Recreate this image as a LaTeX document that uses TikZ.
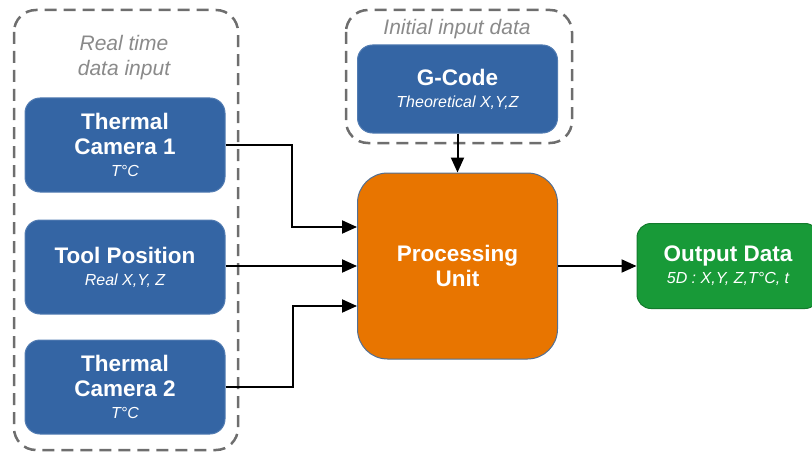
\documentclass[tikz,border=0pt]{standalone}
\usepackage{fontspec}
\setmainfont{Liberation Sans}
\usepackage{tikz}
\usetikzlibrary{shapes,arrows,arrows.meta}
\usepackage{xcolor}
\definecolor{boxblue}{HTML}{3465A4}
\definecolor{boxorange}{HTML}{E87500}
\definecolor{boxgreen}{HTML}{189A38}
\definecolor{dashgray}{HTML}{6E6E6E}
\definecolor{labelgray}{HTML}{8A8A8A}

\begin{document}
\begin{tikzpicture}[x=1pt,y=-1pt,
					inbox/.style={draw=boxblue!85!white, line width=1pt, fill=boxblue, rounded corners=15pt,
						text=white, align=center, minimum width=200pt, inner sep=0pt,
						font=\fontsize{22.5}{25}\selectfont\bfseries},
					procbox/.style={draw=boxblue!60!gray, line width=1pt, fill=boxorange, rounded corners=30pt,
						text=white, align=center, minimum width=200pt, minimum height=186pt, inner sep=0pt,
						font=\fontsize{22.5}{25}\selectfont\bfseries},
					outbox/.style={draw=boxgreen!80!black, line width=1pt, fill=boxgreen, rounded corners=14pt,
						text=white, align=center, minimum width=182pt, minimum height=85pt, inner sep=0pt,
						font=\fontsize{22.5}{25}\selectfont\bfseries},
					group/.style={draw=dashgray, line width=2.5pt, dash pattern=on 12pt off 7pt, rounded corners=22pt},
					grouplabel/.style={text=labelgray, align=center, inner sep=0pt,
						font=\fontsize{21}{25}\selectfont\itshape},
					arr/.style={line width=2pt, -{Triangle[length=15pt,width=13pt]}}]
    \useasboundingbox (0,0) rectangle (812,452);
    % Groups
    \draw[group] (14,10) rectangle (238,450);
    \draw[group] (346,10) rectangle (572,143);
    \node[grouplabel] (rtlabel) at (124,58) {Real time\\data input};
    \node[grouplabel, anchor=base] (inlabel) at (457,35) {Initial input data};
    % Place nodes
    \node [inbox, minimum height=94pt] (cam1) at (125,145) {Thermal\\Camera 1\\[-3pt]
    	{\fontsize{16}{19}\selectfont\mdseries\itshape T°C}};
    \node [inbox, minimum height=94pt] (tool) at (125,267) {Tool Position\\[-3pt]
    	{\fontsize{16}{19}\selectfont\mdseries\itshape Real X,Y, Z}};
    \node [inbox, minimum height=94pt] (cam2) at (125,387) {Thermal\\Camera 2\\[-3pt]
    	{\fontsize{16}{19}\selectfont\mdseries\itshape T°C}};
    \node [inbox, minimum height=88pt] (gcode) at (457.5,89) {G-Code\\[-3pt]
    	{\fontsize{16}{19}\selectfont\mdseries\itshape Theoretical X,Y,Z}};
    \node [procbox] (proc) at (457.5,266) {Processing\\Unit};
    \node [outbox] (out) at (728,266) {Output Data\\[-3pt]
    	{\fontsize{16}{19}\selectfont\mdseries\itshape 5D : X,Y, Z,T°C, t}};
    % Draw edges
    \draw[arr] (cam1.east) -- ++(66,0) |- ([yshift=39pt]proc.west);
    \draw[arr] (tool.east |- proc.west) -- (proc.west);
    \draw[arr] (cam2.east) -- ++(67,0) |- ([yshift=-40pt]proc.west);
    \draw[arr] (gcode.south) -- (proc.north);
    \draw[arr] (proc.east) -- (out.west);
\end{tikzpicture}
\end{document}
